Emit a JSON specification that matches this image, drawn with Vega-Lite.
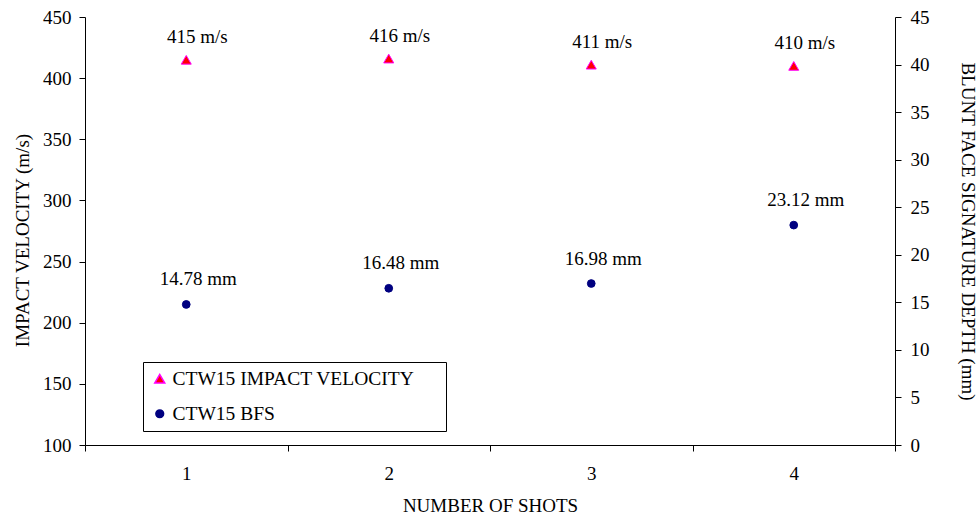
{
  "$schema": "https://vega.github.io/schema/vega-lite/v6.json",
  "width": 810,
  "height": 428,
  "autosize": {"type": "none"},
  "padding": {"left": 85, "top": 17, "right": 84, "bottom": 77},
  "background": "white",
  "config": {
    "font": "Liberation Serif",
    "view": {"stroke": null},
    "axis": {
      "labelFont": "Liberation Serif",
      "titleFont": "Liberation Serif",
      "labelFontSize": 19,
      "titleFontSize": 19,
      "titleFontWeight": "normal",
      "labelColor": "#000000",
      "titleColor": "#000000",
      "domainColor": "#000000",
      "tickColor": "#000000",
      "domainWidth": 1,
      "tickWidth": 1,
      "grid": false
    },
    "legend": {
      "labelFont": "Liberation Serif",
      "labelFontSize": 19.5,
      "labelColor": "#000000"
    }
  },
  "data": {
    "values": [
      {"shot": 1, "series": "CTW15 IMPACT VELOCITY", "value": 415, "label": "415 m/s"},
      {"shot": 2, "series": "CTW15 IMPACT VELOCITY", "value": 416, "label": "416 m/s"},
      {"shot": 3, "series": "CTW15 IMPACT VELOCITY", "value": 411, "label": "411 m/s"},
      {"shot": 4, "series": "CTW15 IMPACT VELOCITY", "value": 410, "label": "410 m/s"},
      {"shot": 1, "series": "CTW15 BFS", "value": 14.78, "label": "14.78 mm"},
      {"shot": 2, "series": "CTW15 BFS", "value": 16.48, "label": "16.48 mm"},
      {"shot": 3, "series": "CTW15 BFS", "value": 16.98, "label": "16.98 mm"},
      {"shot": 4, "series": "CTW15 BFS", "value": 23.12, "label": "23.12 mm"}
    ]
  },
  "encoding": {
    "x": {
      "field": "shot",
      "type": "ordinal",
      "scale": {"paddingInner": 0, "paddingOuter": 0},
      "axis": {
        "title": "NUMBER OF SHOTS",
        "labelAngle": 0,
        "tickBand": "extent",
        "tickSize": 6,
        "labelPadding": 13,
        "titlePadding": 13
      }
    }
  },
  "layer": [
    {
      "transform": [{"filter": "datum.series === 'CTW15 IMPACT VELOCITY'"}],
      "encoding": {
        "y": {
          "field": "value",
          "type": "quantitative",
          "scale": {"domain": [100, 450], "nice": false, "zero": false},
          "axis": {
            "title": "IMPACT VELOCITY (m/s)",
            "orient": "left",
            "values": [100, 150, 200, 250, 300, 350, 400, 450],
            "tickSize": 6,
            "labelPadding": 8,
            "titlePadding": 12,
            "titleX": -63,
            "titleY": 223,
            "titleAngle": -90,
            "titleAlign": "center",
            "titleBaseline": "middle"
          }
        }
      },
      "layer": [
        {
          "mark": {"type": "point", "filled": true, "strokeWidth": 1, "opacity": 1},
          "encoding": {
            "shape": {"field": "series", "type": "nominal", "scale": {"domain": ["CTW15 IMPACT VELOCITY", "CTW15 BFS"], "range": ["triangle-up", "circle"]}, "legend": {
              "orient": "none", "legendX": 58, "legendY": 345, "title": null,
              "strokeColor": "#000000", "fillColor": "#ffffff", "padding": 7,
              "rowPadding": 14, "labelLimit": 400, "labelOffset": 3,
              "labelExpr": "datum.label + '\u00a0\u00a0\u00a0\u00a0\u00a0\u200b'"
            }},
            "fill": {"field": "series", "type": "nominal", "scale": {"domain": ["CTW15 IMPACT VELOCITY", "CTW15 BFS"], "range": ["#ff0000", "#000080"]}},
            "stroke": {"field": "series", "type": "nominal", "scale": {"domain": ["CTW15 IMPACT VELOCITY", "CTW15 BFS"], "range": ["#ff00ff", "#000080"]}},
            "size": {"field": "series", "type": "nominal", "scale": {"domain": ["CTW15 IMPACT VELOCITY", "CTW15 BFS"], "range": [100, 60]}}
          }
        },
        {
          "mark": {"type": "text", "dx": 11, "dy": -17, "baseline": "alphabetic", "fontSize": 19, "font": "Liberation Serif", "color": "#000000"},
          "encoding": {"text": {"field": "label"}}
        }
      ]
    },
    {
      "transform": [{"filter": "datum.series === 'CTW15 BFS'"}],
      "encoding": {
        "y": {
          "field": "value",
          "type": "quantitative",
          "scale": {"domain": [0, 45], "nice": false},
          "axis": {
            "title": "BLUNT FACE SIGNATURE DEPTH (mm)",
            "orient": "right",
            "values": [0, 5, 10, 15, 20, 25, 30, 35, 40, 45],
            "tickSize": 6,
            "labelPadding": 9,
            "titlePadding": 28
          }
        }
      },
      "layer": [
        {
          "mark": {"type": "point", "filled": true, "strokeWidth": 1, "opacity": 1},
          "encoding": {
            "shape": {"field": "series", "type": "nominal"},
            "fill": {"field": "series", "type": "nominal"},
            "stroke": {"field": "series", "type": "nominal"},
            "size": {"field": "series", "type": "nominal"}
          }
        },
        {
          "mark": {"type": "text", "dx": 12, "dy": -19, "baseline": "alphabetic", "fontSize": 19, "font": "Liberation Serif", "color": "#000000"},
          "encoding": {"text": {"field": "label"}}
        }
      ]
    }
  ],
  "resolve": {"scale": {"y": "independent"}}
}
